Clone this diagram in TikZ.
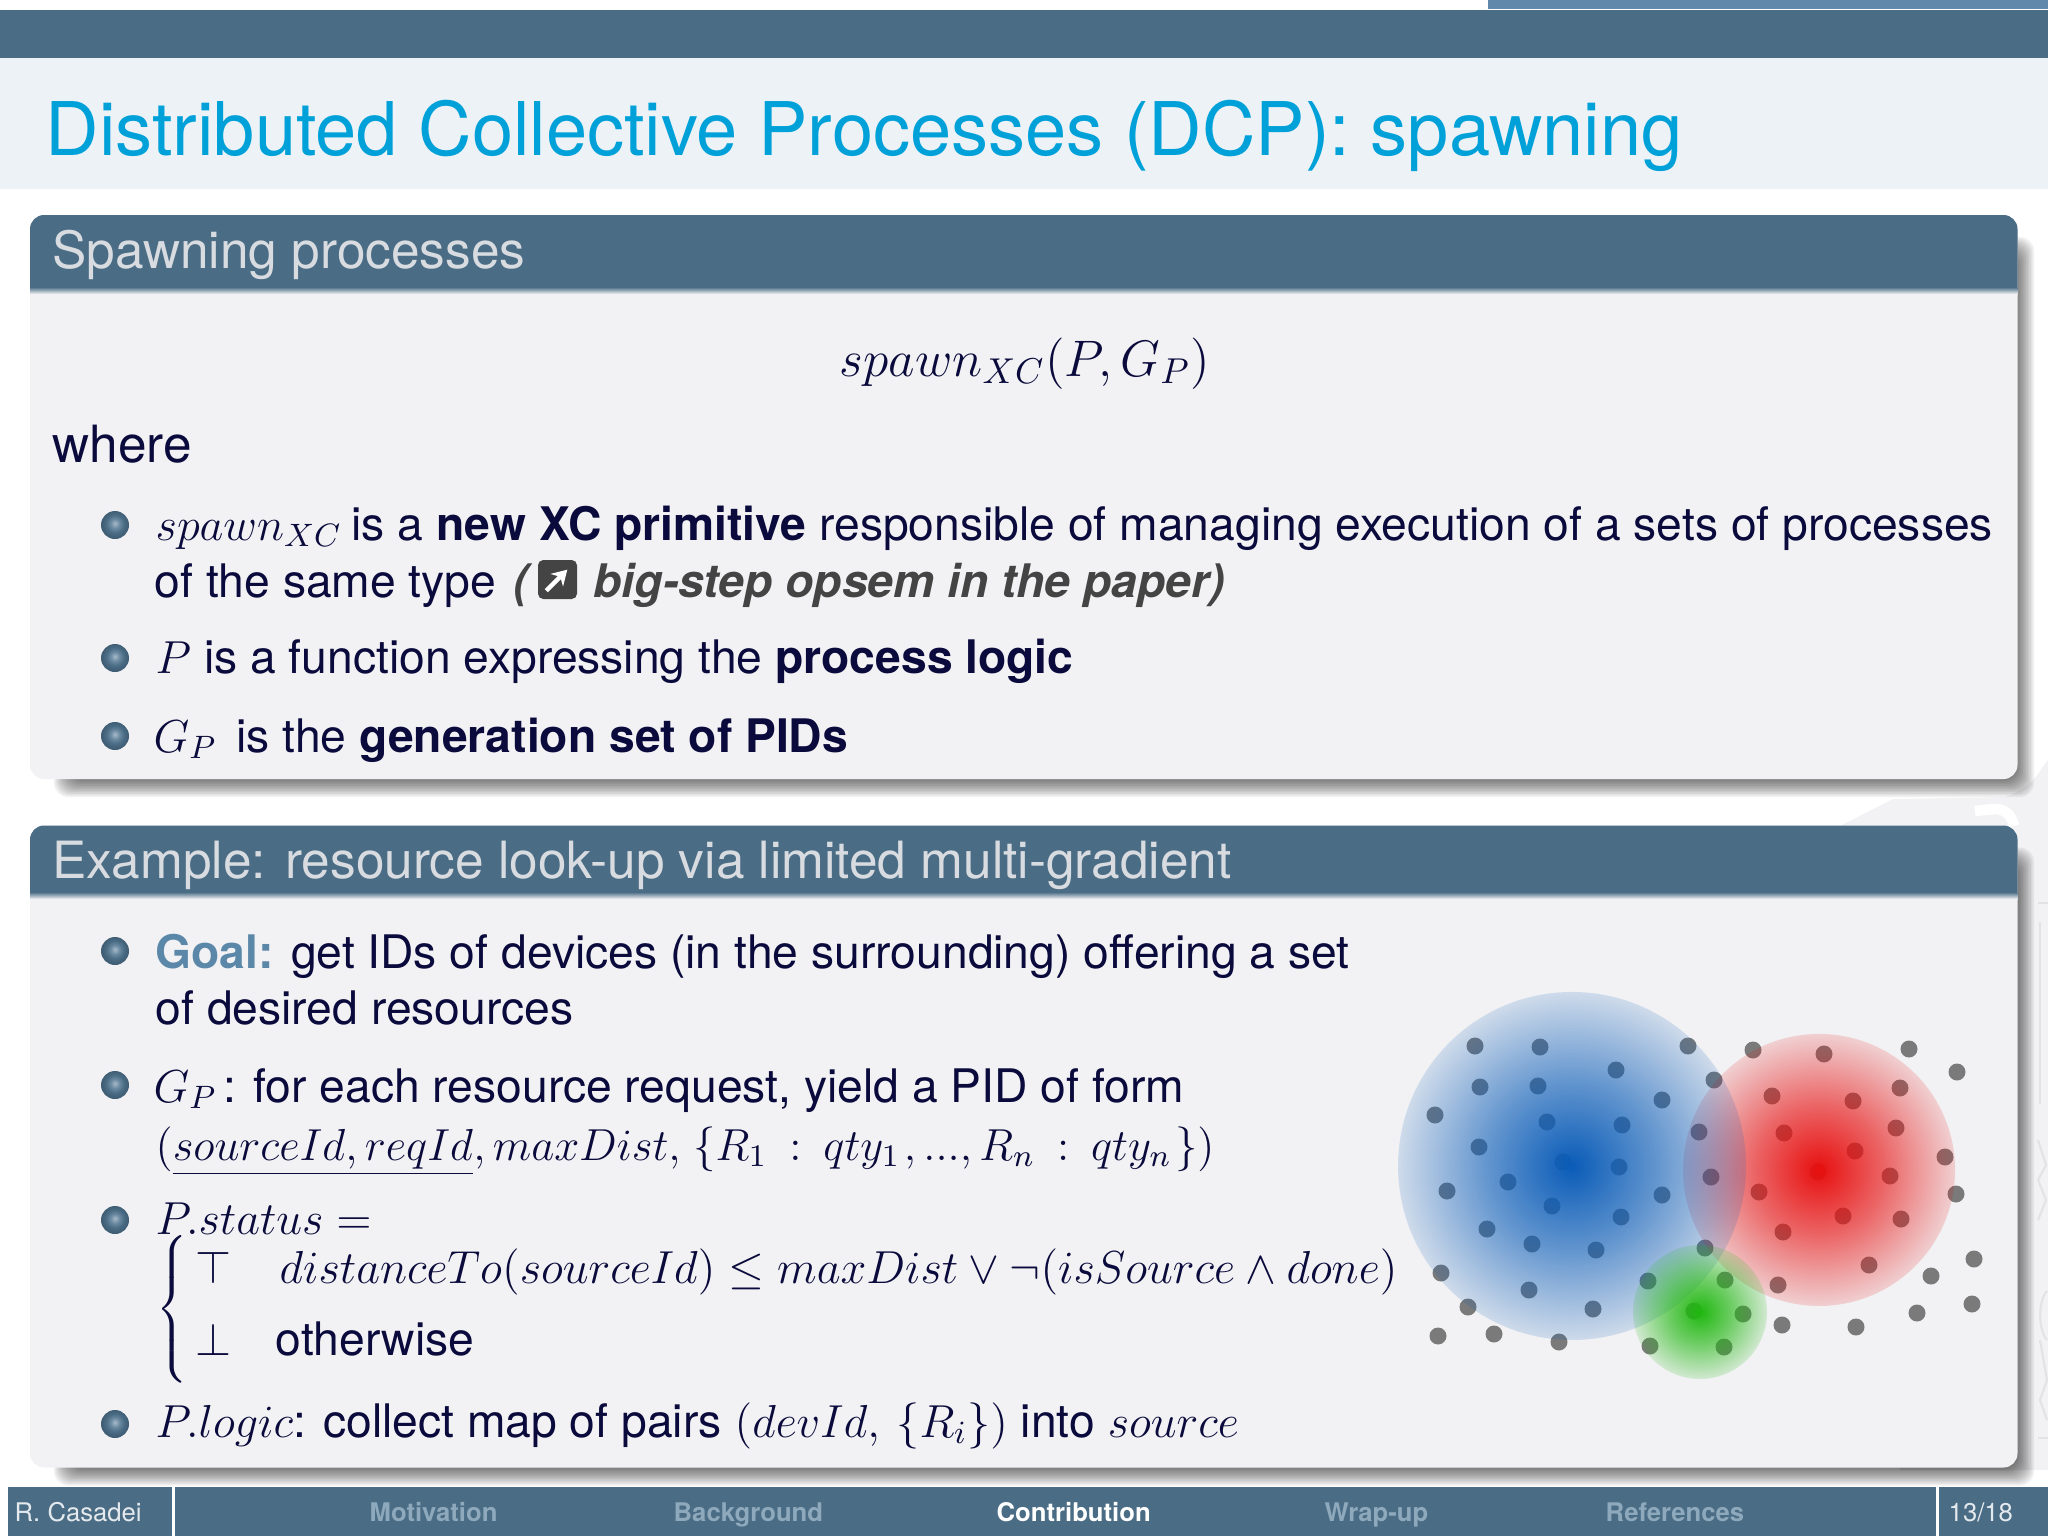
\documentclass[tikz,border=0pt]{standalone}
\usepackage{fix-cm}
\usepackage{fontspec}
\setmainfont{TeX Gyre Heros}
\usetikzlibrary{fadings,arrows.meta}

\definecolor{barblue}{HTML}{4A6C85}
\definecolor{tabblue}{HTML}{6088AA}
\definecolor{bandblue}{HTML}{EDF2F7}
\definecolor{titleblue}{HTML}{00A0D8}
\definecolor{headgrey}{HTML}{D8DCE0}
\definecolor{bodygrey}{HTML}{F2F2F4}
\definecolor{textnavy}{HTML}{0A0A3C}
\definecolor{goalblue}{HTML}{5B88A8}
\definecolor{paperdark}{HTML}{444444}
\definecolor{navdim}{HTML}{8FA9BC}
\definecolor{navlight}{HTML}{E4E9ED}
\definecolor{dotgrey}{HTML}{7A7A7A}
\definecolor{blobblue}{HTML}{0A5CB8}
\definecolor{blobred}{HTML}{E81010}
\definecolor{blobgreen}{HTML}{20B810}
\definecolor{ballhigh}{HTML}{A8BAC9}
\definecolor{ballmid}{HTML}{6C8BA3}
\definecolor{balledge}{HTML}{3E5C72}

% radial opacity of the three coloured regions
\pgfdeclareradialshading{blobshade}{\pgfpointorigin}{color(0bp)=(pgftransparent!0); color(12bp)=(pgftransparent!38); color(25bp)=(pgftransparent!85); color(50bp)=(pgftransparent!100)}
\pgfdeclarefading{blobfade}{\pgfuseshading{blobshade}}
% the bullets
\pgfdeclareradialshading{itemshade}{\pgfpoint{0bp}{3bp}}{color(0bp)=(ballhigh); color(8bp)=(ballmid); color(16bp)=(barblue); color(25bp)=(balledge); color(50bp)=(balledge)}

\tikzset{
  bodytext/.style={anchor=base west, inner sep=0pt, text=textnavy, font=\fontsize{13.15}{15}\selectfont},
  largetext/.style={anchor=base west, inner sep=0pt, text=textnavy, font=\fontsize{14.6}{17}\selectfont},
  papertext/.style={anchor=base west, inner sep=0pt, text=paperdark, font=\bfseries\itshape\fontsize{13.15}{15}\selectfont},
  headtext/.style={anchor=base west, inner sep=0pt, text=headgrey, font=\fontsize{14.6}{18}\selectfont},
  navtext/.style={anchor=base west, inner sep=0pt, text=navdim, font=\bfseries\fontsize{7.3}{10}\selectfont},
  plaintext/.style={anchor=base west, inner sep=0pt, text=navlight, font=\fontsize{7.3}{10}\selectfont},
  blob/.style={path fading=blobfade},
  sealline/.style={black!11, line width=0.6pt}
}

\newcommand{\blockbox}[3]{%
  % --- Shadow, header and body of one block: top, header bottom, bottom ---
  \foreach \i in {0,...,10}
    \fill[black, opacity=0.06, rounded corners=4pt] (70-1.6*\i,#1+38-1.6*\i) rectangle (2018+1.6*\i,#3+2+1.6*\i);
  \fill[bodygrey, rounded corners=4pt] (30,#1) rectangle (2017.5,#3);
  \fill[barblue] (30,#2) [rounded corners=4pt] -- (30,#1) -- (2017.5,#1) [sharp corners] -- (2017.5,#2) -- cycle;
  \shade[top color=barblue, bottom color=bodygrey] (30,#2) rectangle (2017.5,#2+7);
}
\newcommand{\itemball}[1]{\shade[shading=itemshade] (115,#1) circle[radius=14];}
\newcommand{\qtysep}{\mathrel{\kern2.7pt:\kern2.7pt}}

\begin{document}
\begin{tikzpicture}[x=0.01cm,y=-0.01cm]
    \useasboundingbox (0,0) rectangle (2048,1536);

    % --- Top bars and title ---
    \fill[tabblue] (1488,0) rectangle (2048,9);
    \fill[barblue] (0,9.5) rectangle (2048,58);
    \fill[bandblue] (0,58) rectangle (2048,189);
    \node[anchor=base west, inner sep=0pt, text=titleblue, font=\fontsize{21.05}{25}\selectfont] (title) at (45,155) {Distributed Collective Processes (DCP): spawning};

    % --- Seal in the background, right margin ---
    \fill[bodygrey] (1840,826) -- (1893,799) -- (2005,797) .. controls (2025,790) and (2035,780) .. (2042,768) -- (2048,760) -- (2048,1470) -- (1900,1470) -- cycle;
    \draw[white, line width=3pt] (1975,811) -- (1995,809) .. controls (2008,809) and (2012,818) .. (2014,826);
    \draw[sealline] (2038,903) -- (2048,903) (2040,922) -- (2040,1104);
    \draw[sealline] (2038,1140) -- (2046,1165) -- (2038,1180) -- (2046,1200) -- (2038,1220);
    \draw[sealline] (2047,1291) .. controls (2038,1300) and (2038,1330) .. (2047,1340);
    \draw[sealline] (2040,1340) -- (2047,1380) -- (2040,1400) -- (2047,1420);
    \draw[sealline] (2038,1438) -- (2048,1438);

    % --- Blocks ---
    \blockbox{215}{287}{779}
    \blockbox{825.5}{892}{1467.5}

    % --- First block ---
    \node[headtext] (spawnhead) at (52,268) {Spawning processes};
    \node[largetext, anchor=base] (spawnformula) at (1025,376) {$spawn_{XC}(P,G_P)$};
    \node[largetext] (where) at (52,462) {where};
    \itemball{525}
    \itemball{658}
    \itemball{736}
    \node[bodytext] (lineone) at (155,540) {$spawn_{XC}\kern-0.9pt$ is a \textbf{new XC primitive} responsible of managing execution of a sets of processes};
    \node[bodytext] (linetwo) at (154,597) {of the same type};
    \node[papertext] (paperopen) at (513,597) {(};
    \node[fill=paperdark, rounded corners=1.5pt, minimum width=39*0.01cm, minimum height=39*0.01cm, inner sep=0pt] (papericon) at (557.5,579.5) {};
    \draw[white, line width=1.3pt, -{Stealth[length=4.2pt,width=5pt]}] (papericon.south west) ++(9,-9) -- ++(21,-21);
    \node[papertext] (paperref) at (593,597) {big-step opsem in the paper)};
    \node[bodytext] (linep) at (155,673) {$P$ is a function expressing the \textbf{process logic}};
    \node[bodytext] (linegp) at (153,752) {$G_P\kern1.8pt$ is the \textbf{generation set of PIDs}};

    % --- Second block ---
    \node[headtext] (examplehead) at (52,878) {Example: resource look-up via limited multi-gradient};
    \itemball{951}
    \itemball{1085}
    \itemball{1220}
    \itemball{1424}
    \node[bodytext] (goalone) at (155,968) {\textcolor{goalblue}{\textbf{Goal:}} get IDs of devices (in the surrounding) offering a set};
    \node[bodytext] (goaltwo) at (155,1024) {of desired resources};
    \node[bodytext] (gpone) at (153,1102) {$G_P\kern1.8pt$: for each resource request, yield a PID of form};
    \node[bodytext, font=\fontsize{12.75}{15}\selectfont] (gptwo) at (155,1160) {$(\underline{sourceId,reqId},maxDist,\kern1.4pt\{R_1\qtysep qty_1\kern1pt,...,R_n\qtysep qty_n\kern1pt\})$};
    \node[bodytext] (statushead) at (155,1234) {$P.status=$};
    \node[bodytext, anchor=center] (statusbrace) at (174,1311.5) {$\left\{\rule[-19pt]{0pt}{38pt}\right.$};
    \node[bodytext] (statustop) at (195,1283) {$\top$};
    \node[bodytext] (statuscond) at (279,1283) {$distanceTo(sourceId)\leq maxDist\vee\neg(isSource\wedge done)$};
    \node[bodytext] (statusbot) at (195,1355) {$\bot$};
    \node[bodytext] (statuselse) at (275,1355) {otherwise};
    \node[bodytext] (logicline) at (155,1437) {$P.logic$: collect map of pairs $(devId,\kern2.5pt\{R_i\})$ into $source$};

    % --- Devices, under the coloured regions ---
    \foreach \dx/\dy in {1475/1046,1540/1047,1688/1046,1753/1050,1824/1054,1909/1049,1957/1072,1616/1070,1714/1080,1480/1087,1538/1086,1662/1100,1772/1096,1853/1101,1900/1088,1435/1115,1547/1122,1622/1125,1699/1132,1784/1133,1896/1128,1479/1147,1855/1151,1945/1157,1563/1162,1619/1167,1818/1172,1508/1182,1711/1177,1890/1176,1447/1191,1662/1195,1759/1192,1956/1194,1552/1206,1621/1217,1843/1216,1901/1219,1487/1229,1783/1232,1532/1244,1596/1250,1705/1248,1869/1265,1974/1259,1441/1273,1931/1276,1648/1281,1725/1280,1778/1285,1529/1290,1972/1304,1468/1307,1593/1309,1694/1311,1743/1314,1917/1313,1782/1325,1856/1327,1438/1336,1494/1334,1559/1342,1650/1346,1724/1347}
      \fill[dotgrey] (\dx,\dy) circle[radius=8.5];

    % --- Coloured regions ---
    \fill[blobred, blob] (1819,1170) circle[radius=136];
    \fill[blobblue, blob] (1572,1166) circle[radius=174];
    \fill[blobgreen, blob] (1700,1312) circle[radius=67];

    % --- Footer ---
    \fill[barblue] (7.6,1487) rectangle (2048,1536);
    \fill[white] (171.5,1487) rectangle (174.5,1536);
    \fill[white] (1935.5,1487) rectangle (1938.5,1536);
    \node[plaintext] (footauthor) at (14,1521) {R. Casadei};
    \node[navtext] (navmotivation) at (369,1521) {Motivation};
    \node[navtext] (navbackground) at (673,1521) {Background};
    \node[navtext, text=white] (navcontribution) at (996,1521) {Contribution};
    \node[navtext] (navwrapup) at (1324,1521) {Wrap-up};
    \node[navtext] (navreferences) at (1605,1521) {References};
    \node[plaintext] (footpage) at (1948,1521) {13/18};

\end{tikzpicture}
\end{document}
